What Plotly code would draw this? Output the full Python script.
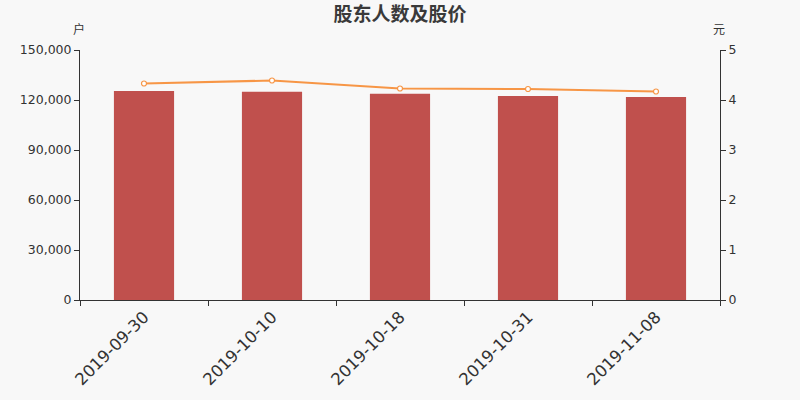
import plotly.graph_objects as go

dates = ['2019-09-30', '2019-10-10', '2019-10-18', '2019-10-31', '2019-11-08']
holders = [125400, 125000, 123800, 122400, 121800]
price = [4.33, 4.39, 4.23, 4.22, 4.17]

fig = go.Figure()
fig.add_trace(go.Bar(x=dates, y=holders, marker_color='#c0504d', marker_line_width=0,
                     width=0.47, name='户数'))
fig.add_trace(go.Scatter(x=dates, y=price, yaxis='y2', mode='lines+markers', name='股价',
                         line=dict(color='#f79646', width=2),
                         marker=dict(size=5, color='white', line=dict(color='#f79646', width=1.2))))

fig.update_layout(
    width=800, height=400,
    paper_bgcolor='#f8f8f8', plot_bgcolor='#f8f8f8',
    font=dict(family='DejaVu Sans, Noto Sans CJK SC', size=12.5, color='#333333'),
    margin=dict(l=80, r=80, t=50, b=100, autoexpand=False),
    showlegend=False,
    title=dict(text='<b>股东人数及股价</b>', x=0.5, y=0.965, yref='container',
               xanchor='center', yanchor='middle',
               font=dict(family='Noto Sans CJK SC', size=19, color='#3a3a3a')),
    xaxis=dict(type='category', tickson='boundaries', ticks='outside', ticklen=5,
               tickangle=-45, tickfont=dict(size=16.5), showline=True, linecolor='#333333',
               linewidth=1, showgrid=False, tickcolor='#333333', automargin=False),
    yaxis=dict(range=[0, 150000], dtick=30000, tickformat=',', ticks='outside', ticklen=5,
               showline=True, linecolor='#333333', showgrid=False, zeroline=False,
               tickcolor='#333333', automargin=False),
    yaxis2=dict(range=[0, 5], dtick=1, overlaying='y', side='right', ticks='outside', ticklen=5,
                showline=True, linecolor='#333333', showgrid=False, zeroline=False,
                tickcolor='#333333', automargin=False),
)
fig.add_annotation(text='户', xref='paper', yref='paper', x=-0.002, y=1.084,
                   xanchor='center', yanchor='middle', showarrow=False,
                   font=dict(family='Noto Sans CJK SC', size=12))
fig.add_annotation(text='元', xref='paper', yref='paper', x=0.998, y=1.084,
                   xanchor='center', yanchor='middle', showarrow=False,
                   font=dict(family='Noto Sans CJK SC', size=12))

fig.write_html('out.html', config={'displayModeBar': False},
               post_script="document.body.style.margin='0';")
